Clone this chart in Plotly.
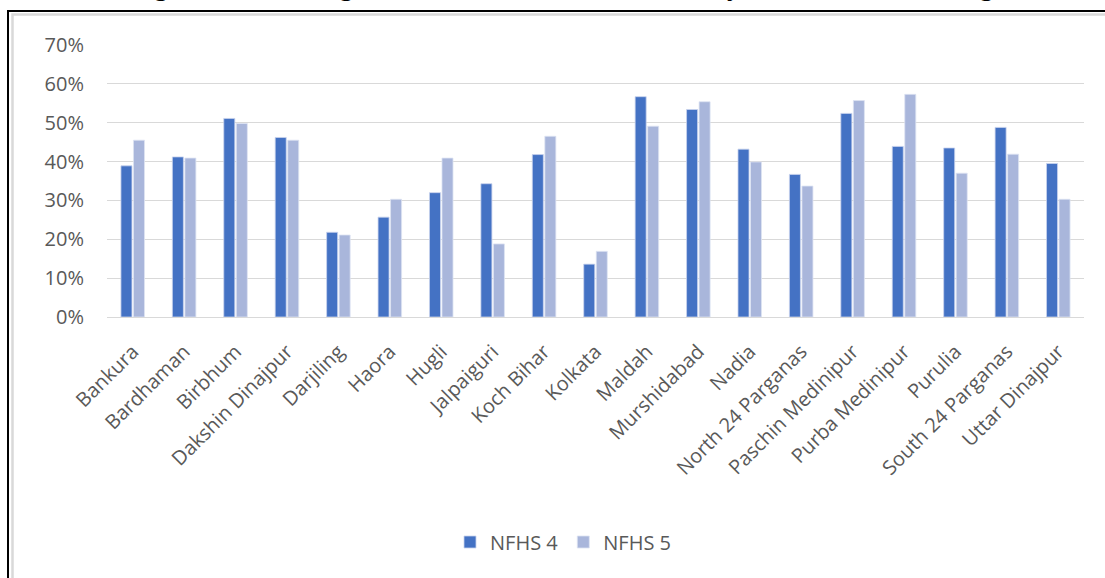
import plotly.graph_objects as go

districts = [
    "Bankura", "Bardhaman", "Birbhum", "Dakshin Dinajpur", "Darjiling", "Haora",
    "Hugli", "Jalpaiguri", "Koch Bihar", "Kolkata", "Maldah", "Murshidabad",
    "Nadia", "North 24 Parganas", "Paschin Medinipur", "Purba Medinipur",
    "Purulia", "South 24 Parganas", "Uttar Dinajpur",
]
nfhs4 = [38.9, 41.2, 51.1, 46.2, 21.8, 25.7, 32.0, 34.3, 41.8, 13.6, 56.7,
         53.4, 43.2, 36.7, 52.4, 43.9, 43.5, 48.8, 39.5]
nfhs5 = [45.5, 40.9, 49.8, 45.5, 21.1, 30.3, 40.9, 18.8, 46.5, 16.9, 49.1,
         55.4, 39.9, 33.7, 55.7, 57.3, 37.0, 41.9, 30.3]
y_ticks = [0, 10, 20, 30, 40, 50, 60, 70]

W, H = 1105, 578
L, R, T, B = 107, 21, 45, 261
PW, PH = W - L - R, H - T - B

def px(x):
    return (x - L) / PW

def py(y):
    return (H - B - y) / PH

fig = go.Figure()
fig.add_bar(name="NFHS 4", x=districts, y=[v / 100 for v in nfhs4],
            marker=dict(color="#4472C4", line=dict(color="#C9D3EE", width=0.8)))
fig.add_bar(name="NFHS 5", x=districts, y=[v / 100 for v in nfhs5],
            marker=dict(color="#A9B6DB", line=dict(color="#DDE3F2", width=0.8)))

label_font = dict(family="Open Sans, Liberation Sans, sans-serif", size=20, color="#595959")

fig.update_layout(
    width=W, height=H,
    margin=dict(l=L, r=R, t=T, b=B, autoexpand=False),
    paper_bgcolor="white", plot_bgcolor="white",
    barmode="group", bargap=0.513, bargroupgap=0.12,
    showlegend=True,
    legend=dict(orientation="h", x=px(563.5), xanchor="center", y=py(542), yanchor="middle",
                font=label_font, itemwidth=30, traceorder="normal"),
    xaxis=dict(tickangle=-45, tickfont=label_font, showgrid=False, showline=False,
               ticks="", automargin=False, ticklabelstandoff=18),
    yaxis=dict(range=[0, 0.7], tickvals=[v / 100 for v in y_ticks],
               ticktext=[f"{v}%" for v in y_ticks], tickfont=label_font,
               showgrid=True, gridcolor="#D9D9D9", gridwidth=1,
               zeroline=True, zerolinecolor="#D9D9D9", zerolinewidth=1,
               showline=False, ticks="", ticklen=0, automargin=False,
               ticklabelstandoff=22),
    font=label_font,
)

# figure frame: outer black border and inner grey border
fig.add_shape(type="rect", xref="paper", yref="paper",
              x0=px(8), x1=px(W + 20), y0=py(H + 20), y1=py(11),
              line=dict(color="black", width=2), fillcolor="rgba(0,0,0,0)", layer="above")
fig.add_shape(type="rect", xref="paper", yref="paper",
              x0=px(12.5), x1=px(W + 20), y0=py(H + 20), y1=py(14.5),
              line=dict(color="#D9D9D9", width=2.5), fillcolor="rgba(0,0,0,0)", layer="above")

fig.add_annotation(
    text="Figure 3: Percentage of Women Married before 18 by District in West Bengal",
    xref="paper", yref="paper", x=px(572), y=py(3), xanchor="center", yanchor="bottom",
    showarrow=False, font=dict(family="Liberation Serif, serif", size=28.5, color="black"),
)

fig.write_html("out.html")
